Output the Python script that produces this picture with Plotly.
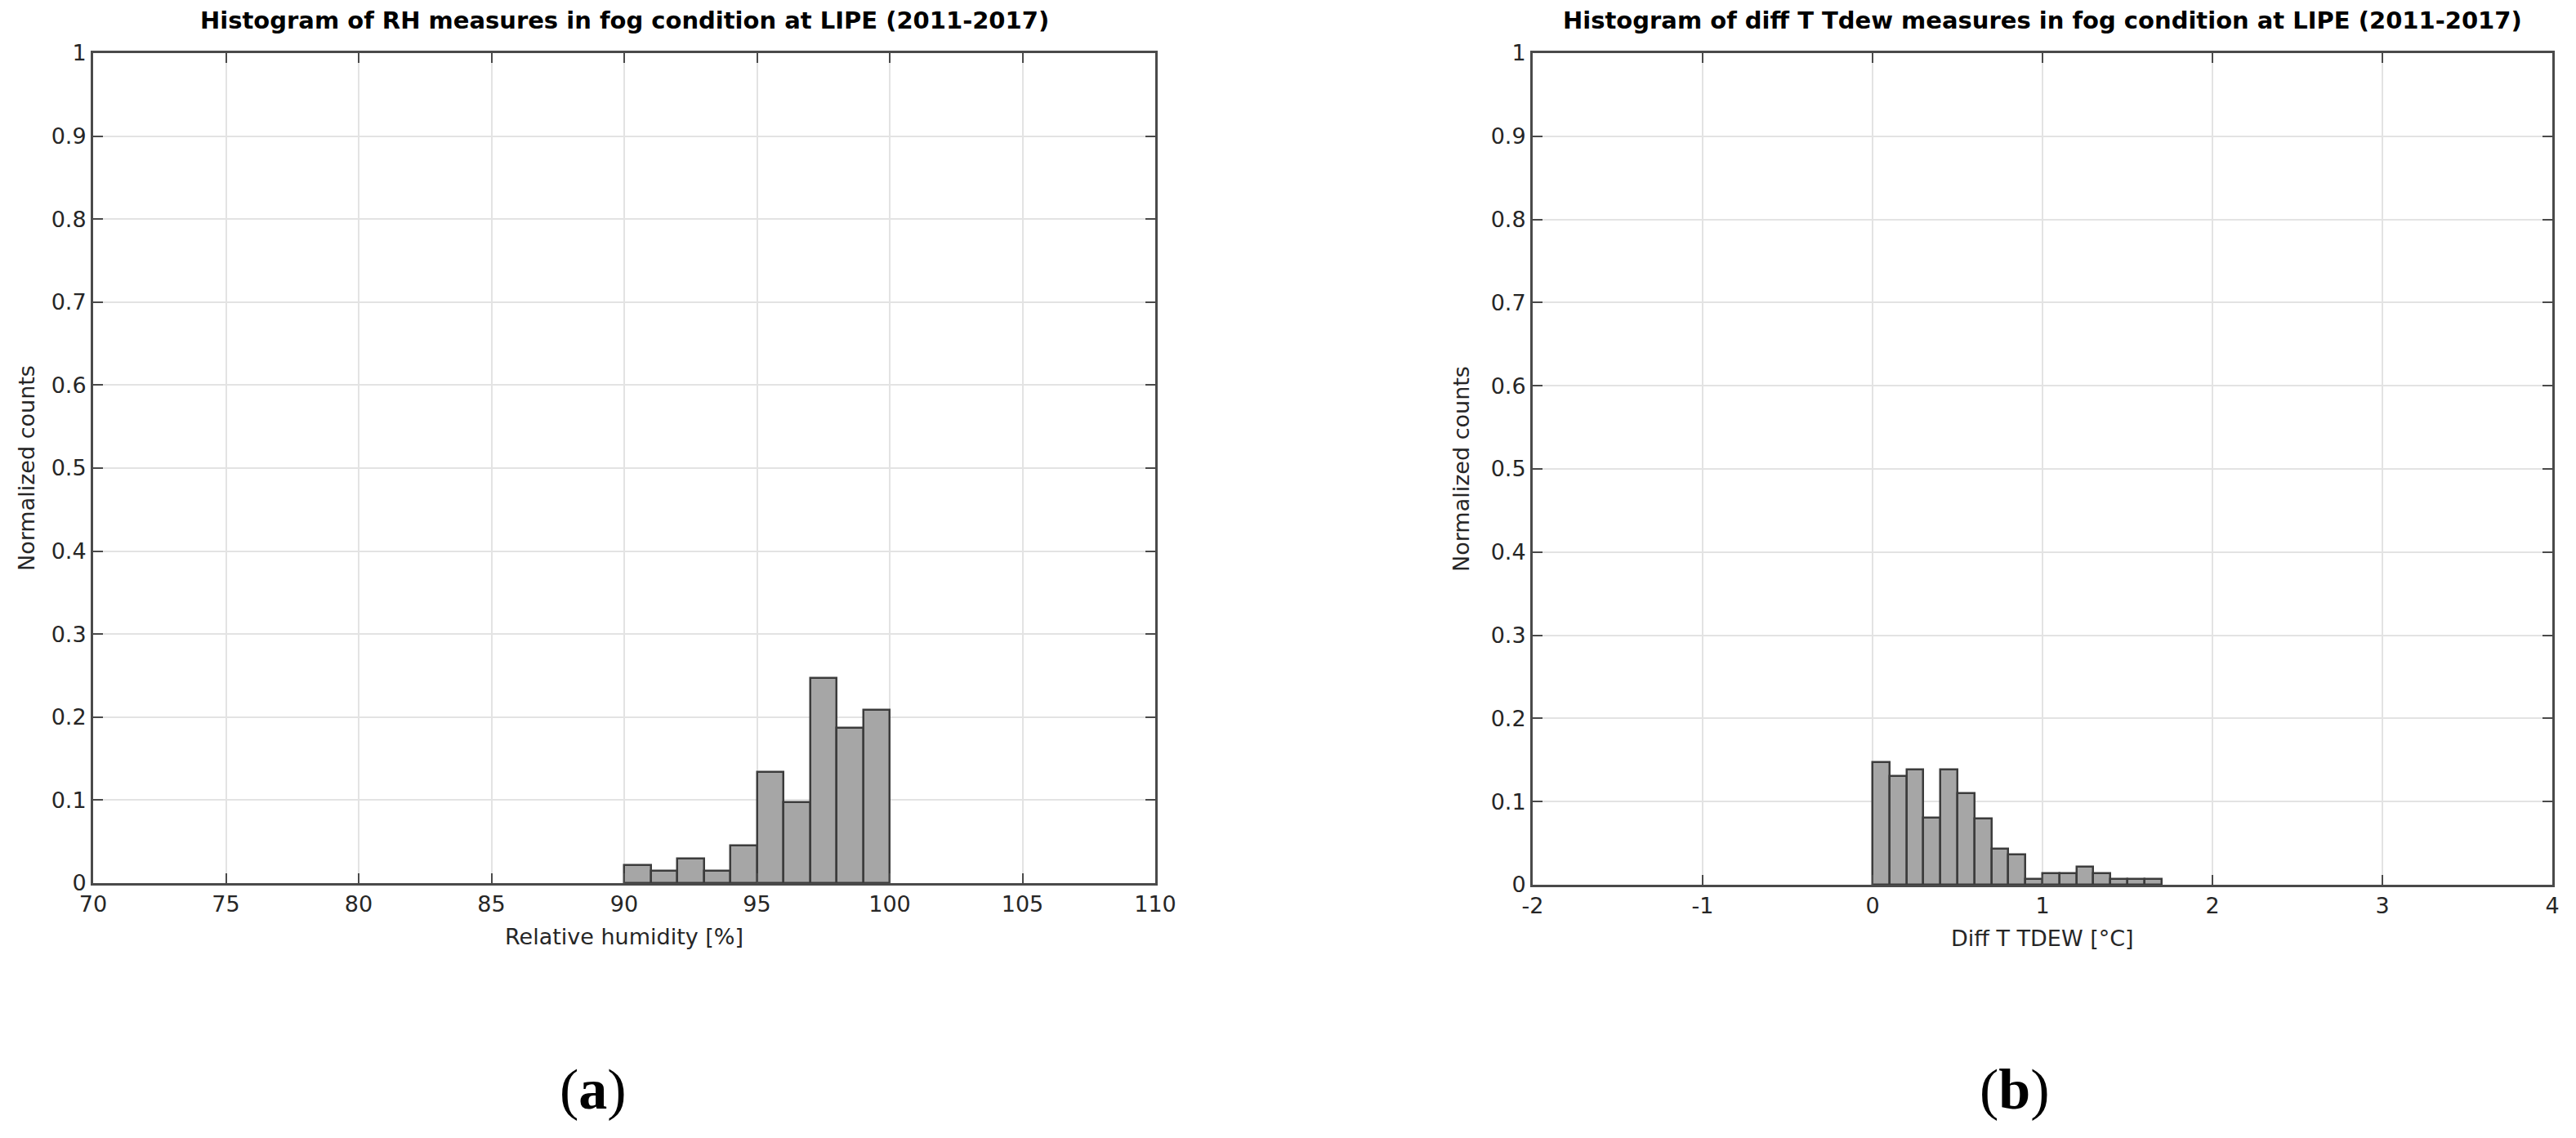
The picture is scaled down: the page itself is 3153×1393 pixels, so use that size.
import plotly.graph_objects as go

# ---- data -------------------------------------------------------------
rh_bin_centers = [90.5, 91.5, 92.5, 93.5, 94.5, 95.5, 96.5, 97.5, 98.5, 99.5]
rh_counts = [0.022, 0.015, 0.030, 0.015, 0.045, 0.134, 0.097, 0.247, 0.187, 0.209]
rh_bin_width = 1.0

dtd_bin_centers = [0.05, 0.15, 0.25, 0.35, 0.45, 0.55, 0.65, 0.75, 0.85, 0.95,
                   1.05, 1.15, 1.25, 1.35, 1.45, 1.55, 1.65]
dtd_counts = [0.147, 0.131, 0.139, 0.081, 0.139, 0.110, 0.080, 0.043, 0.036, 0.007,
              0.014, 0.014, 0.022, 0.014, 0.007, 0.007, 0.007]
dtd_bin_width = 0.1

rh_xticks = [70, 75, 80, 85, 90, 95, 100, 105, 110]
rh_xticklabels = ["70", "75", "80", "85", "90", "95", "100", "105", "110"]
dtd_xticks = [-2, -1, 0, 1, 2, 3, 4]
dtd_xticklabels = ["-2", "-1", "0", "1", "2", "3", "4"]
y_ticks = [0, 0.1, 0.2, 0.3, 0.4, 0.5, 0.6, 0.7, 0.8, 0.9, 1]
y_ticklabels = ["0", "0.1", "0.2", "0.3", "0.4", "0.5", "0.6", "0.7", "0.8", "0.9", "1"]

title_a = "Histogram of RH measures in fog condition at LIPE (2011-2017)"
title_b = "Histogram of diff T Tdew measures in fog condition at LIPE (2011-2017)"
xlabel_a = "Relative humidity [%]"
xlabel_b = "Diff T TDEW [°C]"
ylabel = "Normalized counts"

# ---- figure -----------------------------------------------------------
W, H = 3153, 1393
FONT = "DejaVu Sans"
TXT = "#262626"
AX = "#4a4a4a"
GRID = "#e3e3e3"
BAR_FILL = "#a6a6a6"
BAR_LINE = "#3c3c3c"


def px(x):
    return x / W


def py(y):
    return 1 - y / H


fig = go.Figure()
fig.add_trace(go.Bar(x=rh_bin_centers, y=rh_counts, width=rh_bin_width,
                     marker=dict(color=BAR_FILL, line=dict(color=BAR_LINE, width=2.5)),
                     xaxis="x", yaxis="y", showlegend=False))
fig.add_trace(go.Bar(x=dtd_bin_centers, y=dtd_counts, width=dtd_bin_width,
                     marker=dict(color=BAR_FILL, line=dict(color=BAR_LINE, width=2.5)),
                     xaxis="x2", yaxis="y2", showlegend=False))

# plot boxes (pixels)
A = dict(l=114, r=1414, t=65, b=1081)
B = dict(l=1876, r=3124, t=65, b=1083)

common = dict(showline=True, mirror="ticks", linecolor=AX, linewidth=3,
              ticks="inside", ticklen=12, tickwidth=2, tickcolor=AX,
              showgrid=True, gridcolor=GRID, gridwidth=2, zeroline=False,
              automargin=False,
              tickfont=dict(family=FONT, size=27, color=TXT), fixedrange=True)

fig.update_layout(
    template="none",
    width=W, height=H,
    margin=dict(l=0, r=0, t=0, b=0, pad=0, autoexpand=False),
    paper_bgcolor="white", plot_bgcolor="white",
    bargap=0,
    xaxis=dict(common, domain=[px(A["l"]), px(A["r"])], range=[70, 110],
               tickvals=rh_xticks, ticktext=rh_xticklabels, anchor="y"),
    yaxis=dict(common, domain=[py(A["b"]), py(A["t"])], range=[0, 1],
               tickvals=y_ticks, ticktext=y_ticklabels, anchor="x"),
    xaxis2=dict(common, domain=[px(B["l"]), px(B["r"])], range=[-2, 4],
                tickvals=dtd_xticks, ticktext=dtd_xticklabels, anchor="y2"),
    yaxis2=dict(common, domain=[py(B["b"]), py(B["t"])], range=[0, 1],
                tickvals=y_ticks, ticktext=y_ticklabels, anchor="x2"),
)

ann = []
# titles
ann.append(dict(text="<b>" + title_a + "</b>", x=px((A["l"] + A["r"]) / 2), y=py(25),
                xref="paper", yref="paper", showarrow=False, xanchor="center", yanchor="middle",
                font=dict(family=FONT, size=29, color="#000000")))
ann.append(dict(text="<b>" + title_b + "</b>", x=px((B["l"] + B["r"]) / 2), y=py(25),
                xref="paper", yref="paper", showarrow=False, xanchor="center", yanchor="middle",
                font=dict(family=FONT, size=29, color="#000000")))
# axis titles
ann.append(dict(text=xlabel_a, x=px((A["l"] + A["r"]) / 2), y=py(1146),
                xref="paper", yref="paper", showarrow=False, xanchor="center", yanchor="middle",
                font=dict(family=FONT, size=27, color=TXT)))
ann.append(dict(text=xlabel_b, x=px((B["l"] + B["r"]) / 2), y=py(1148),
                xref="paper", yref="paper", showarrow=False, xanchor="center", yanchor="middle",
                font=dict(family=FONT, size=27, color=TXT)))
ann.append(dict(text=ylabel, x=px(32), y=py((A["t"] + A["b"]) / 2), textangle=-90,
                xref="paper", yref="paper", showarrow=False, xanchor="center", yanchor="middle",
                font=dict(family=FONT, size=27, color=TXT)))
ann.append(dict(text=ylabel, x=px(1788), y=py((B["t"] + B["b"]) / 2), textangle=-90,
                xref="paper", yref="paper", showarrow=False, xanchor="center", yanchor="middle",
                font=dict(family=FONT, size=27, color=TXT)))
# panel letters
ann.append(dict(text="(<b>a</b>)", x=px(726), y=py(1333),
                xref="paper", yref="paper", showarrow=False, xanchor="center", yanchor="middle",
                font=dict(family="Liberation Serif", size=70, color="#000000")))
ann.append(dict(text="(<b>b</b>)", x=px(2466), y=py(1333),
                xref="paper", yref="paper", showarrow=False, xanchor="center", yanchor="middle",
                font=dict(family="Liberation Serif", size=70, color="#000000")))
fig.update_layout(annotations=ann)

fig.write_html("out.html",
               config={"displayModeBar": False},
               post_script="document.body.style.margin='0';document.body.style.overflow='hidden';")
